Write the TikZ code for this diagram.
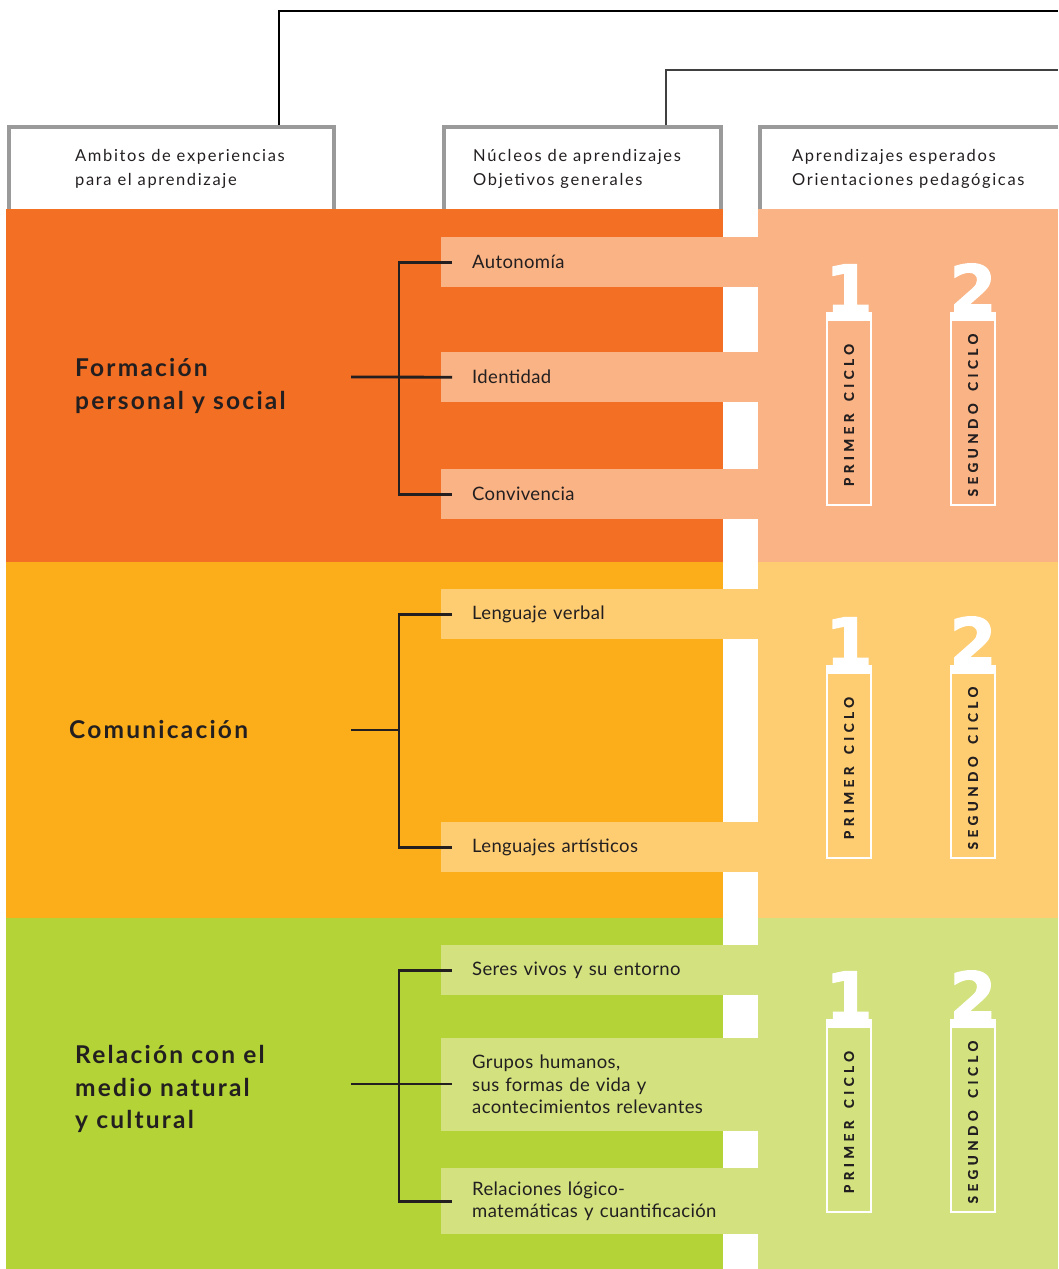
\documentclass[tikz,border=0pt]{standalone}
\usepackage{fontspec}
\setmainfont{Lato}
\newfontfamily\stripfont{Lato}[LetterSpace=2]
\newfontfamily\headfont{Lato}[LetterSpace=10]
\newfontfamily\titlefont{Lato}[LetterSpace=9]
\newfontfamily\ciclofont{Lato}[LetterSpace=33, WordSpace=1.6, BoldFeatures={FakeBold=0.6}]
\newfontfamily\numfont{DejaVu Sans}[BoldFeatures={FakeBold=1.6}]
\usetikzlibrary{positioning}

\definecolor{fdark}{HTML}{F26F23}
\definecolor{flight}{HTML}{F9B384}
\definecolor{cdark}{HTML}{FBAE19}
\definecolor{clight}{HTML}{FECD72}
\definecolor{rdark}{HTML}{B3D336}
\definecolor{rlight}{HTML}{D3E27F}
\definecolor{ink}{HTML}{231F20}
\definecolor{frame}{HTML}{9A9A9A}

\tikzset{
  strip/.style={fill=#1, anchor=north west, text width=255pt, inner xsep=31pt,
    inner ysep=0pt, minimum height=50pt, align=left, text=ink,
    font=\stripfont\fontsize{18.5}{22.5}\selectfont},
  hdrtext/.style={anchor=west, align=left, text=ink, inner sep=0pt,
    font=\headfont\fontsize{16.5}{24}\selectfont},
  bandtitle/.style={anchor=west, align=left, text=ink, inner sep=0pt,
    font=\titlefont\fontsize{24.5}{32.5}\selectfont\bfseries},
  hdr/.style={draw=frame, line width=4pt},
  conn/.style={line width=1.4pt},
  brk/.style={draw=ink, line width=2.8pt},
}

\begin{document}
\begin{tikzpicture}[x=1pt,y=-1pt]
\useasboundingbox (0,0) rectangle (1058,1269);

% connectors from the header boxes
\coordinate (ambtop) at (279,127);
\coordinate (nuctop) at (666,127);
\coordinate (edgeA) at (1058,11);
\coordinate (edgeB) at (1058,70);
\draw[conn, black] (ambtop) |- (edgeA);
\draw[conn, black!75] (nuctop) |- (edgeB);

% header boxes
\draw[hdr] (9,209) |- (334,127) -- (334,209);
\draw[hdr] (444,209) |- (721,127) -- (721,209);
\draw[hdr] (760,209) |- (1058,127);
\node[hdrtext] (amb) at (75,169) {Ambitos de experiencias\\para el aprendizaje};
\node[hdrtext] (nuc) at (473,169) {Núcleos de aprendizajes\\Objetivos generales};
\node[hdrtext] (apr) at (792,169) {Aprendizajes esperados\\Orientaciones pedagógicas};

% bands
\fill[fdark] (6,209) rectangle (723,562);
\fill[flight] (758,209) rectangle (1058,562);
\fill[cdark] (6,562) rectangle (723,918);
\fill[clight] (758,562) rectangle (1058,918);
\fill[rdark] (6,918) rectangle (723,1269);
\fill[rlight] (758,918) rectangle (1058,1269);

% strips
\node[strip=flight] (aut) at (441,237) {Autonomía};
\node[strip=flight] (iden) at (441,352) {Identidad};
\node[strip=flight] (conv) at (441,469) {Convivencia};
\node[strip=clight] (verb) at (441,589) {Lenguaje verbal};
\node[strip=clight] (art) at (441,822) {Lenguajes artísticos};
\node[strip=rlight] (seres) at (441,945) {Seres vivos y su entorno};
\node[strip=rlight, minimum height=93pt] (grup) at (441,1038)
  {Grupos humanos,\\sus formas de vida y\\acontecimientos relevantes};
\node[strip=rlight, minimum height=66pt] (rel) at (441,1168)
  {Relaciones lógico-\\matemáticas y cuantificación};

% band titles
\node[bandtitle] (form) at (75,386) {Formación\\personal y social};
\node[bandtitle] (comu) at (69,730) {Comunicación};
\node[bandtitle] (rela) at (75,1089) {Relación con el\\medio natural\\y cultural};

% brackets
\coordinate (fs) at (351,377);
\coordinate (fj) at (399,377);
\draw[brk] ([xshift=11pt]aut.west) -| (fj) |- ([xshift=11pt]conv.west);
\draw[brk] (fs) -- ([xshift=11pt]iden.west);

\coordinate (cs) at (351,730);
\coordinate (cj) at (399,730);
\draw[brk] ([xshift=11pt]verb.west) -| (cj) |- ([xshift=11pt]art.west);
\draw[brk] (cs) -- (cj);

\coordinate (rs) at (351,1084);
\coordinate (rj) at (399,1084);
\draw[brk] ([xshift=11pt]seres.west) -| (rj) |- ([xshift=11pt]rel.west);
\draw[brk] (rs) -- ([xshift=11pt]grup.west |- rs);

% cycle markers
\foreach \b in {312,665,1019}{
  \foreach \x/\n/\t in {849/1/PRIMER CICLO, 973/2/SEGUNDO CICLO}{
    \fill[white] (\x-23,\b) rectangle (\x+23,\b+9);
    \draw[white, line width=2.2pt] (\x-22,\b+8) rectangle (\x+22,\b+193);
    \node[anchor=base, inner sep=0pt, text=white,
      font=\numfont\fontsize{68}{68}\selectfont\bfseries] (num\n-\b) at (\x,\b+2) {\n};
    \node[rotate=90, inner sep=0pt, text=ink,
      font=\ciclofont\fontsize{13.5}{13.5}\selectfont\bfseries] (cic\n-\b) at (\x,\b+103) {\t};
  }
}
\end{tikzpicture}
\end{document}
